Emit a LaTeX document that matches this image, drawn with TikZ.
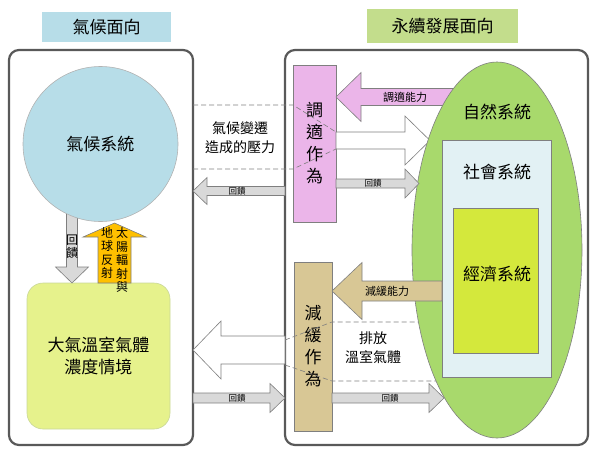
\documentclass[tikz,border=0pt]{standalone}
\usepackage{fontspec}
\setmainfont{Noto Sans CJK TC}
\usetikzlibrary{shapes.geometric,calc}

\definecolor{climblue}{HTML}{B7DDE8}
\definecolor{susgreen}{HTML}{C3DD8C}
\definecolor{ghgyellow}{HTML}{E6F28C}
\definecolor{ghgedge}{HTML}{C9D79A}
\definecolor{natgreen}{HTML}{A8D96C}
\definecolor{socblue}{HTML}{E2F1F4}
\definecolor{ecoyellow}{HTML}{D4E83C}
\definecolor{adapink}{HTML}{EBB5E9}
\definecolor{mittan}{HTML}{D8C795}
\definecolor{sunorange}{HTML}{FFC000}
\definecolor{fbgray}{HTML}{D9D9D9}
\definecolor{edgegray}{HTML}{7F7F7F}
\definecolor{panelgray}{HTML}{595959}

% block arrow: style, from, tip, shaft half, head half, head length
\newcommand\blockarrow[6]{%
  \draw[#1] let \p1=(#2), \p2=(#3), \n1={atan2(\y2-\y1,\x2-\x1)}, \n2={veclen(\x2-\x1,\y2-\y1)} in
    [shift={(\p1)}, rotate=\n1]
    (0,#4) -- (\n2-#6,#4) -- (\n2-#6,#5) -- (\n2,0) -- (\n2-#6,-#5) -- (\n2-#6,-#4) -- (0,-#4) -- cycle;}

\begin{document}
\begin{tikzpicture}[x=1pt,y=-1pt,
  every node/.style={inner sep=0pt, outer sep=0pt},
  panel/.style={draw=panelgray, line width=2.2pt, rounded corners=10},
  titlebox/.style={font=\fontsize{17}{19}\selectfont},
  sysbox/.style={draw=edgegray, line width=0.6pt},
  bigtxt/.style={font=\fontsize{17}{22}\selectfont, align=center},
  midtxt/.style={font=\fontsize{14}{19}\selectfont, align=center},
  captxt/.style={font=\fontsize{11}{13}\selectfont},
  fbtxt/.style={font=\fontsize{8.5}{10}\selectfont},
  suntxt/.style={font=\fontsize{12}{13.5}\selectfont, align=center},
  fbarrow/.style={draw=edgegray, fill=fbgray, line width=0.6pt},
  wharrow/.style={draw=edgegray, fill=white, line width=0.6pt},
  band/.style={draw=edgegray, dash pattern=on 5pt off 3pt, line width=0.6pt}]
\useasboundingbox (0,0) rectangle (598,456);

% panels and titles
\node[panel, minimum width=184, minimum height=395] (lpanel) at (101,247.5) {};
\node[panel, minimum width=303, minimum height=395] (rpanel) at (436.5,247.5) {};
\node[titlebox, fill=climblue, minimum width=129, minimum height=30] (ltitle) at (106.5,27) {氣候面向};
\node[titlebox, fill=susgreen, minimum width=151, minimum height=34] (rtitle) at (442.5,26) {永續發展面向};

% climate side
\node[sysbox, draw=ghgedge, fill=ghgyellow, rounded corners=16, minimum width=143, minimum height=146, bigtxt] (ghg) at (98.5,356) {大氣溫室氣體\\濃度情境};
\coordinate (fbtop) at (72,208);
\blockarrow{fbarrow}{fbtop}{fbtop |- ghg.north}{5.5}{16.5}{16}
\node[suntxt] (fbdown) at (72,246.5) {回\\饋};
\node[circle, draw=gray!60, line width=0.6pt, fill=climblue, minimum size=155, bigtxt] (climate) at (100.5,144) {氣候系統};
\coordinate (suntip) at (114.5,223);
\blockarrow{draw=edgegray, fill=sunorange, line width=0.6pt}{suntip |- ghg.north}{suntip}{16.5}{31.5}{14}
\node[suntxt] (sunlbl) at (122,260) {太\\陽\\輻\\射\\與};
\node[suntxt] (earthlbl) at (107,253) {地\\球\\反\\射};

% actions
\node[sysbox, fill=adapink, minimum width=43, minimum height=157, bigtxt] (adapt) at (314.5,143.5) {調\\適\\作\\為};
\node[sysbox, fill=mittan, minimum width=38, minimum height=169, bigtxt] (mitig) at (313,346.5) {減\\緩\\作\\為};

% pressure band
\draw[band] (lpanel.east |- 0,105) -- (adapt.west |- 0,105) -- (adapt.east |- 0,132);
\draw[band] (lpanel.east |- 0,169) -- (adapt.west |- 0,169) -- (adapt.east |- 0,149);
\node[midtxt] (press) at (240,138) {氣候變遷\\造成的壓力};
\coordinate (adtip) at (430,140.5);
\blockarrow{wharrow}{adapt.east |- adtip}{adtip}{8.5}{24.5}{25}

% emission band
\draw[band] (rpanel.west |- 0,340) -- (mitig.east |- 0,322) -- (460,322);
\draw[band] (rpanel.west |- 0,365) -- (mitig.east |- 0,381) -- (470,381);
\node[midtxt] (emit) at (373,348) {排放\\溫室氣體};
\blockarrow{wharrow}{rpanel.west |- 0,350}{lpanel.east |- 0,350}{14}{29}{28}

\blockarrow{draw=edgegray, fill=adapink, line width=0.6pt}{460,97}{adapt.east |- 0,97}{8.5}{24.5}{25}

% sustainability systems
\node[ellipse, sysbox, fill=natgreen, minimum width=170, minimum height=376] (nature) at (497,250) {};
\node[bigtxt] (natlbl) at (497,112) {自然系統};
\node[sysbox, fill=socblue, minimum width=109, minimum height=237] (social) at (496.5,258.5) {};
\node[bigtxt] (soclbl) at (497,172) {社會系統};
\node[sysbox, fill=ecoyellow, minimum width=85, minimum height=145] (econ) at (495.5,280.5) {};
\node[bigtxt] (ecolbl) at (497,274) {經濟系統};

\node[captxt] (adcap) at (405,97) {調適能力};
\blockarrow{draw=edgegray, fill=mittan, line width=0.6pt}{social.west |- 0,291}{mitig.east |- 0,291}{10}{28.5}{30}
\node[captxt] (micap) at (387,291) {減緩能力};

% feedback arrows
\blockarrow{fbarrow}{rpanel.west |- 0,191}{lpanel.east |- 0,191}{4.5}{13.5}{14}
\node[fbtxt] (fb1) at (237,191) {回饋};
\coordinate (fbtip2) at (419,183.5);
\blockarrow{fbarrow}{adapt.east |- fbtip2}{fbtip2}{4.5}{14.5}{14}
\node[fbtxt] (fb2) at (373,183.5) {回饋};
\blockarrow{fbarrow}{lpanel.east |- 0,398}{rpanel.west |- 0,398}{5}{14.5}{15}
\node[fbtxt] (fb3) at (237,398) {回饋};
\coordinate (fbtip4) at (444,398);
\blockarrow{fbarrow}{mitig.east |- fbtip4}{fbtip4}{5}{14.5}{15}
\node[fbtxt] (fb4) at (390,398) {回饋};
\end{tikzpicture}
\end{document}
